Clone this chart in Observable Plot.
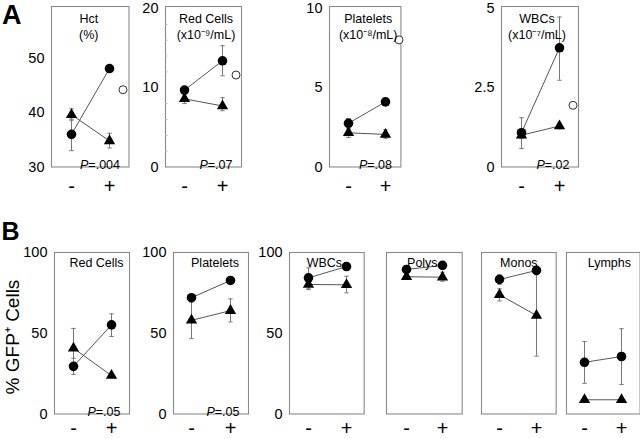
<!DOCTYPE html>
<html><head><meta charset="utf-8">
<script src="https://cdn.jsdelivr.net/npm/d3@7"></script>
<script src="https://cdn.jsdelivr.net/npm/@observablehq/plot@0.6"></script>
<style>
body{margin:0;background:#fff;}
#chart{position:relative;width:640px;height:439px;overflow:hidden;font-family:"Liberation Sans",Arial,sans-serif;color:#000;}
#chart svg{position:absolute;overflow:visible;}
.panelLetter{position:absolute;font-weight:bold;line-height:1;}
.ylab{position:absolute;white-space:nowrap;font-size:19px;transform:translate(-50%,-50%) rotate(-90deg);}
</style></head><body><div id="chart"></div>
<script>
const doses = ["-", "+"];

// ---- Panel A: blood counts ----
const hctTicks = [30, 40, 50];
const hctCircle = [36.0, 48.1], hctCircleLo = [33.0, 47.7], hctCircleHi = [38.8, 48.5];
const hctTri = [39.6, 34.8], hctTriLo = [38.6, 33.5], hctTriHi = [40.7, 36.2];
const hctNormal = 44.2;

const rbcTicks = [0, 10, 20];
const rbcMinorTicks = [2, 4, 6, 8, 12, 14, 16, 18];
const rbcCircle = [9.7, 13.4], rbcCircleLo = [9.3, 11.5], rbcCircleHi = [10.1, 15.3];
const rbcTri = [8.6, 7.7], rbcTriLo = [8.0, 7.1], rbcTriHi = [9.2, 8.75];
const rbcNormal = 11.6;

const pltTicks = [0, 5, 10];
const pltCircle = [2.75, 4.1], pltCircleLo = [2.45, 3.9], pltCircleHi = [3.05, 4.3];
const pltTri = [2.15, 2.05], pltTriLo = [1.85, 1.8], pltTriHi = [2.4, 2.35];
const pltNormal = 8.0;

const wbcTicks = [0, 2.5, 5];
const wbcCircle = [1.08, 3.75], wbcCircleLo = [0.58, 2.73], wbcCircleHi = [1.55, 4.72];
const wbcTri = [1.0, 1.29], wbcTriLo = [0.9, 1.2], wbcTriHi = [1.1, 1.38];
const wbcNormal = 1.94;

// ---- Panel B: % GFP+ cells ----
const gfpTicks = [0, 50, 100];
const bRbcCircle = [29.5, 55.2], bRbcCircleLo = [24.5, 48], bRbcCircleHi = [34.5, 62];
const bRbcTri = [40.7, 23.8], bRbcTriLo = [28.5, 22.5], bRbcTriHi = [53, 25];
const bPltCircle = [72, 82.7], bPltCircleLo = [70, 81], bPltCircleHi = [74, 84.5];
const bPltTri = [58, 64], bPltTriLo = [46.7, 57], bPltTriHi = [69.3, 71.3];
const bWbcCircle = [84.3, 91.3], bWbcCircleLo = [77.5, 90], bWbcCircleHi = [90.5, 92.6];
const bWbcTri = [80.2, 80], bWbcTriLo = [77, 75], bWbcTriHi = [83, 85.3];
const polyCircle = [89.5, 92], polyCircleLo = [88, 90.5], polyCircleHi = [91, 93.5];
const polyTri = [85, 84.7], polyTriLo = [84, 82.2], polyTriHi = [86, 87.8];
const monoCircle = [83.3, 88.9], monoCircleLo = [80.3, 87.5], monoCircleHi = [86.3, 90.3];
const monoTri = [73.8, 61], monoTriLo = [70, 35.8], monoTriHi = [77.5, 86.2];
const lymCircle = [32, 35.6], lymCircleLo = [19, 18.3], lymCircleHi = [44.9, 52.8];
const lymTri = [8.8, 8.8], lymTriLo = [8.8, 8.8], lymTriHi = [8.8, 8.8];

const chart = document.getElementById("chart");

const capSymbol = {draw(ctx) { ctx.moveTo(-2.2, 0); ctx.lineTo(2.2, 0); }};

function makePanel(cfg) {
  const ml = 50, mr = 12, mt = 4, mb = 36;
  const rows = doses.map((dose, i) => ({
    dose, c: cfg.circle[i], cLo: cfg.circleLo[i], cHi: cfg.circleHi[i],
    t: cfg.tri[i], tLo: cfg.triLo[i], tHi: cfg.triHi[i]
  }));
  const caps = rows.flatMap(r => [
    {dose: r.dose, v: r.cLo}, {dose: r.dose, v: r.cHi},
    {dose: r.dose, v: r.tLo}, {dose: r.dose, v: r.tHi}
  ]);
  const marks = [Plot.frame({stroke: "#8a8a8a", strokeWidth: 1.1})];
  if (cfg.ticks) marks.push(Plot.axisY({ticks: cfg.ticks, tickSize: 0, tickPadding: 7, fontSize: 14.5, tickFormat: d => String(d), label: null}));
  if (cfg.minor) marks.push(Plot.axisY({ticks: cfg.minor, tickSize: 2.5, dx: 2.5, tickFormat: () => "", stroke: "#b5b5b5", label: null}));
  marks.push(Plot.axisX({tickSize: 0, tickPadding: cfg.xPad, fontSize: 20, label: null}));
  marks.push(
    Plot.ruleX(rows, {x: "dose", y1: "cLo", y2: "cHi", stroke: "#777", strokeWidth: 1}),
    Plot.ruleX(rows, {x: "dose", y1: "tLo", y2: "tHi", stroke: "#777", strokeWidth: 1}),
    Plot.dot(caps, {x: "dose", y: "v", symbol: capSymbol, stroke: "#777", fill: "none", strokeWidth: 1}),
    Plot.line(rows, {x: "dose", y: "c", stroke: "#555", strokeWidth: 1}),
    Plot.line(rows, {x: "dose", y: "t", stroke: "#555", strokeWidth: 1}),
    Plot.dot(rows, {x: "dose", y: "t", symbol: "triangle", r: 4.2, fill: "#000", stroke: "none"}),
    Plot.dot(rows, {x: "dose", y: "c", r: 4.8, fill: "#000", stroke: "none"})
  );
  if (cfg.normal != null) {
    marks.push(Plot.dot([{dose: "+", v: cfg.normal}], {x: "dose", y: "v", dx: 13.5, r: 4, fill: "#fff", stroke: "#333", strokeWidth: 1}));
  }
  marks.push(Plot.text([cfg.title], {text: d => d, frameAnchor: "top", lineAnchor: "top", dy: cfg.titleDy, dx: cfg.titleDx || 0, fontSize: 12.5, lineHeight: 1.28, fill: "#000"}));
  if (cfg.p) {
    marks.push(Plot.text([cfg.p], {text: d => d, frameAnchor: "bottom-right", textAnchor: "end", lineAnchor: "bottom", dx: -9, dy: 2, fontSize: 12.5, fill: "#000"}));
  }
  const svg = Plot.plot({
    width: ml + cfg.w + mr,
    height: mt + cfg.h + mb,
    marginLeft: ml, marginRight: mr, marginTop: mt, marginBottom: mb,
    style: {background: "transparent", fontFamily: "'Liberation Sans', Arial, sans-serif", color: "#000", overflow: "visible"},
    x: {type: "point", domain: doses, padding: cfg.pad, align: cfg.align ?? 0.5},
    y: {domain: cfg.domain, axis: cfg.ticks ? undefined : null},
    marks
  });
  d3.select(svg).selectAll("text").each(function() {
    const t = this.textContent;
    if (/^P=/.test(t)) {
      const s = d3.select(this);
      s.text(null);
      s.append("tspan").attr("font-style", "italic").text("P");
      s.append("tspan").text(t.slice(1));
    }
  });
  svg.style.left = (cfg.left - ml) + "px";
  svg.style.top = (cfg.top - mt) + "px";
  chart.appendChild(svg);
}

const aTop = 5.5, aH = 160.5, bTop = 252, bH = 161.5;
const panelsA = [
  {left: 51, w: 77.5, pad: 0.512, domain: [30, 59.5], ticks: hctTicks, title: "Hct\n(%)", titleDx: -1.5, p: "P=.004",
   circle: hctCircle, circleLo: hctCircleLo, circleHi: hctCircleHi, tri: hctTri, triLo: hctTriLo, triHi: hctTriHi, normal: hctNormal},
  {left: 165, w: 76, pad: 0.492, domain: [0, 20.25], ticks: rbcTicks, minor: rbcMinorTicks, title: "Red Cells\n(x10⁻⁹/mL)", titleDx: 2.5, p: "P=.07",
   circle: rbcCircle, circleLo: rbcCircleLo, circleHi: rbcCircleHi, tri: rbcTri, triLo: rbcTriLo, triHi: rbcTriHi, normal: rbcNormal},
  {left: 329.3, w: 71.4, pad: 0.447, align: 0.564, domain: [0, 10.1], ticks: pltTicks, title: "Platelets\n(x10⁻⁸/mL)", titleDx: 3, p: "P=.08",
   circle: pltCircle, circleLo: pltCircleLo, circleHi: pltCircleHi, tri: pltTri, triLo: pltTriLo, triHi: pltTriHi, normal: pltNormal},
  {left: 500.7, w: 77, pad: 0.505, align: 0.517, domain: [0, 5.05], ticks: wbcTicks, title: "WBCs\n(x10⁻⁷/mL)", titleDx: -3, p: "P=.02",
   circle: wbcCircle, circleLo: wbcCircleLo, circleHi: wbcCircleHi, tri: wbcTri, triLo: wbcTriLo, triHi: wbcTriHi, normal: wbcNormal}
];
panelsA.forEach(p => makePanel({...p, top: aTop, h: aH, xPad: 11.4, titleDy: 5.5}));

const panelsB = [
  {left: 54.3, w: 75, pad: 0.479, ticks: gfpTicks, title: "Red Cells", titleDx: 4.5, p: "P=.05",
   circle: bRbcCircle, circleLo: bRbcCircleLo, circleHi: bRbcCircleHi, tri: bRbcTri, triLo: bRbcTriLo, triHi: bRbcTriHi},
  {left: 172.7, w: 75, pad: 0.46, align: 0.51, ticks: gfpTicks, title: "Platelets", titleDx: 4, p: "P=.05",
   circle: bPltCircle, circleLo: bPltCircleLo, circleHi: bPltCircleHi, tri: bPltTri, triLo: bPltTriLo, triHi: bPltTriHi},
  {left: 289.3, w: 74.7, pad: 0.473, align: 0.52, ticks: gfpTicks, title: "WBCs", titleDx: -2.5,
   circle: bWbcCircle, circleLo: bWbcCircleLo, circleHi: bWbcCircleHi, tri: bWbcTri, triLo: bWbcTriLo, triHi: bWbcTriHi},
  {left: 386, w: 75.7, pad: 0.523, title: "Polys", titleDx: -2,
   circle: polyCircle, circleLo: polyCircleLo, circleHi: polyCircleHi, tri: polyTri, triLo: polyTriLo, triHi: polyTriHi},
  {left: 481, w: 74.7, pad: 0.5, align: 0.49, title: "Monos", titleDx: 0,
   circle: monoCircle, circleLo: monoCircleLo, circleHi: monoCircleHi, tri: monoTri, triLo: monoTriLo, triHi: monoTriHi},
  {left: 565.7, w: 73.6, pad: 0.476, title: "Lymphs", titleDx: 6,
   circle: lymCircle, circleLo: lymCircleLo, circleHi: lymCircleHi, tri: lymTri, triLo: lymTriLo, triHi: lymTriHi}
];
panelsB.forEach(p => makePanel({...p, top: bTop, h: bH, domain: [0, 100], xPad: 7, titleDy: 3}));

// Panel letters and shared y label
const letterA = document.createElement("div");
letterA.className = "panelLetter"; letterA.textContent = "A";
Object.assign(letterA.style, {left: "2px", top: "1.5px", fontSize: "27px"});
chart.appendChild(letterA);
const letterB = document.createElement("div");
letterB.className = "panelLetter"; letterB.textContent = "B";
Object.assign(letterB.style, {left: "1.5px", top: "219px", fontSize: "25px"});
chart.appendChild(letterB);
const ylab = document.createElement("div");
ylab.className = "ylab"; ylab.textContent = "% GFP⁺ Cells";
Object.assign(ylab.style, {left: "12px", top: "337px"});
chart.appendChild(ylab);
</script>
</body></html>
